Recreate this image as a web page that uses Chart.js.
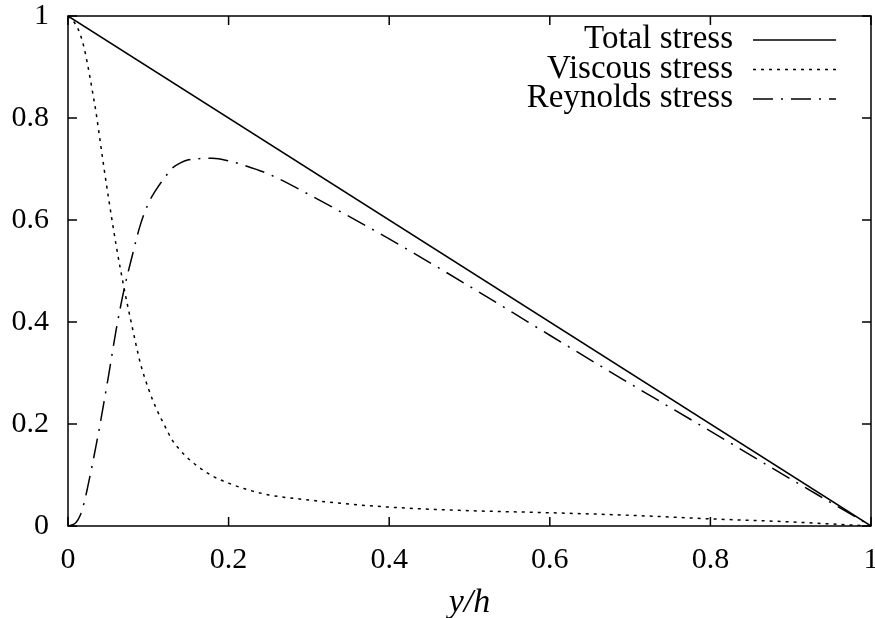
<!DOCTYPE html>
<html><head><meta charset="utf-8">
<script src="https://cdn.jsdelivr.net/npm/chart.js@4/dist/chart.umd.min.js"></script>
<style>html,body{margin:0;padding:0;background:#fff}#wrap{width:875px;height:618px}</style>
</head><body><div id="wrap"><canvas id="c" width="875" height="618"></canvas></div>
<script>
// ---- data ----
const xTicks = [0, 0.2, 0.4, 0.6, 0.8, 1];
const yTicks = [0, 0.2, 0.4, 0.6, 0.8, 1];
const seriesNames = ['Total stress', 'Viscous stress', 'Reynolds stress'];
const axisTitle = 'y/h';

const totalX = [0, 1];
const totalY = [1, 0];

const profileX = [0, 0.005, 0.01, 0.015, 0.02, 0.025, 0.03, 0.035, 0.04, 0.045, 0.05,
  0.06, 0.07, 0.08, 0.09, 0.1, 0.11, 0.12, 0.13, 0.14, 0.15, 0.16, 0.18, 0.2, 0.22,
  0.25, 0.3, 0.35, 0.4, 0.45, 0.5, 0.6, 0.7, 0.8, 0.9, 0.95, 1.0];
const viscousY = [1.0, 0.993, 0.982, 0.965, 0.938, 0.9, 0.856, 0.81, 0.755, 0.70, 0.648,
  0.55, 0.465, 0.39, 0.32, 0.27, 0.23, 0.198, 0.168, 0.148, 0.132, 0.119, 0.098, 0.084, 0.073,
  0.061, 0.051, 0.043, 0.037, 0.033, 0.030, 0.026, 0.021, 0.014, 0.008, 0.004, 0];
const reynoldsY = [0, 0.002, 0.007, 0.02, 0.045, 0.08, 0.118, 0.158, 0.2, 0.245, 0.29,
  0.385, 0.465, 0.53, 0.59, 0.632, 0.66, 0.682, 0.702, 0.712, 0.718, 0.72, 0.721, 0.716, 0.707,
  0.69, 0.65, 0.607, 0.563, 0.517, 0.47, 0.374, 0.279, 0.186, 0.092, 0.046, 0];

// ---- chart ----
const FONT = '"Liberation Serif", "Times New Roman", serif';
const pts = (xs, ys) => xs.map((x, i) => ({x: x, y: ys[i]}));
const noPad = s => { s.paddingTop = 0; s.paddingBottom = 0; s.paddingLeft = 0; s.paddingRight = 0; };

const legendPlugin = {
  id: 'gnuLegend',
  afterDatasetsDraw(chart) {
    const ctx = chart.ctx, a = chart.chartArea;
    ctx.save();
    ctx.font = '33px ' + FONT;
    ctx.fillStyle = '#000';
    ctx.textAlign = 'right';
    ctx.textBaseline = 'alphabetic';
    chart.data.datasets.forEach((ds, i) => {
      const y = a.top + 24 + i * 29.5;
      ctx.fillText(ds.label, a.right - 138, y + 8);
      ctx.beginPath();
      ctx.setLineDash(ds.borderDash || []);
      ctx.lineWidth = ds.borderWidth;
      ctx.strokeStyle = ds.borderColor;
      ctx.moveTo(a.right - 118, y);
      ctx.lineTo(a.right - 35, y);
      ctx.stroke();
    });
    ctx.restore();
  }
};

const framePlugin = {
  id: 'gnuFrame',
  afterDraw(chart) {
    const ctx = chart.ctx, a = chart.chartArea;
    const xs = chart.scales.x, ys = chart.scales.y;
    const L = 9;
    ctx.save();
    ctx.setLineDash([]);
    ctx.strokeStyle = '#000';
    ctx.lineWidth = 1.5;
    ctx.beginPath();
    xTicks.forEach(v => {
      const px = xs.getPixelForValue(v);
      ctx.moveTo(px, a.bottom); ctx.lineTo(px, a.bottom - L);
      ctx.moveTo(px, a.top); ctx.lineTo(px, a.top + L);
    });
    yTicks.forEach(v => {
      const py = ys.getPixelForValue(v);
      ctx.moveTo(a.left, py); ctx.lineTo(a.left + L, py);
      ctx.moveTo(a.right, py); ctx.lineTo(a.right - L, py);
    });
    ctx.stroke();
    ctx.strokeRect(a.left, a.top, a.right - a.left, a.bottom - a.top);
    ctx.restore();
  }
};

new Chart(document.getElementById('c'), {
  type: 'line',
  data: {
    datasets: [
      {label: seriesNames[0], data: pts(totalX, totalY), borderColor: '#000', borderWidth: 1.5,
       borderDash: [], pointRadius: 0, fill: false},
      {label: seriesNames[1], data: pts(profileX, viscousY), borderColor: '#000', borderWidth: 1.5,
       borderDash: [3, 5], pointRadius: 0, fill: false, cubicInterpolationMode: 'monotone'},
      {label: seriesNames[2], data: pts(profileX, reynoldsY), borderColor: '#000', borderWidth: 1.5,
       borderDash: [20, 8, 2, 8], pointRadius: 0, fill: false, cubicInterpolationMode: 'monotone'}
    ]
  },
  options: {
    responsive: false,
    animation: false,
    devicePixelRatio: 1,
    layout: {padding: {top: 16, right: 4, left: 0, bottom: 0}},
    plugins: {legend: {display: false}, tooltip: {enabled: false}},
    scales: {
      x: {
        type: 'linear', min: 0, max: 1,
        afterBuildTicks: s => { s.ticks = xTicks.map(v => ({value: v})); },
        afterFit: s => { s.height = 92; noPad(s); },
        grid: {display: false, drawTicks: false},
        border: {display: false},
        ticks: {color: '#000', font: {family: FONT, size: 30}, padding: 16, maxRotation: 0,
                callback: v => String(v)},
        title: {display: true, text: axisTitle, color: '#000',
                font: {family: FONT, size: 34, style: 'italic', lineHeight: 0.9}, padding: {top: 0, bottom: 0}}
      },
      y: {
        type: 'linear', min: 0, max: 1,
        afterBuildTicks: s => { s.ticks = yTicks.map(v => ({value: v})); },
        afterFit: s => { s.width = 68; noPad(s); },
        grid: {display: false, drawTicks: false},
        border: {display: false},
        ticks: {color: '#000', font: {family: FONT, size: 30}, padding: 19,
                callback: v => String(v)}
      }
    }
  },
  plugins: [legendPlugin, framePlugin]
});
</script>
</body></html>
